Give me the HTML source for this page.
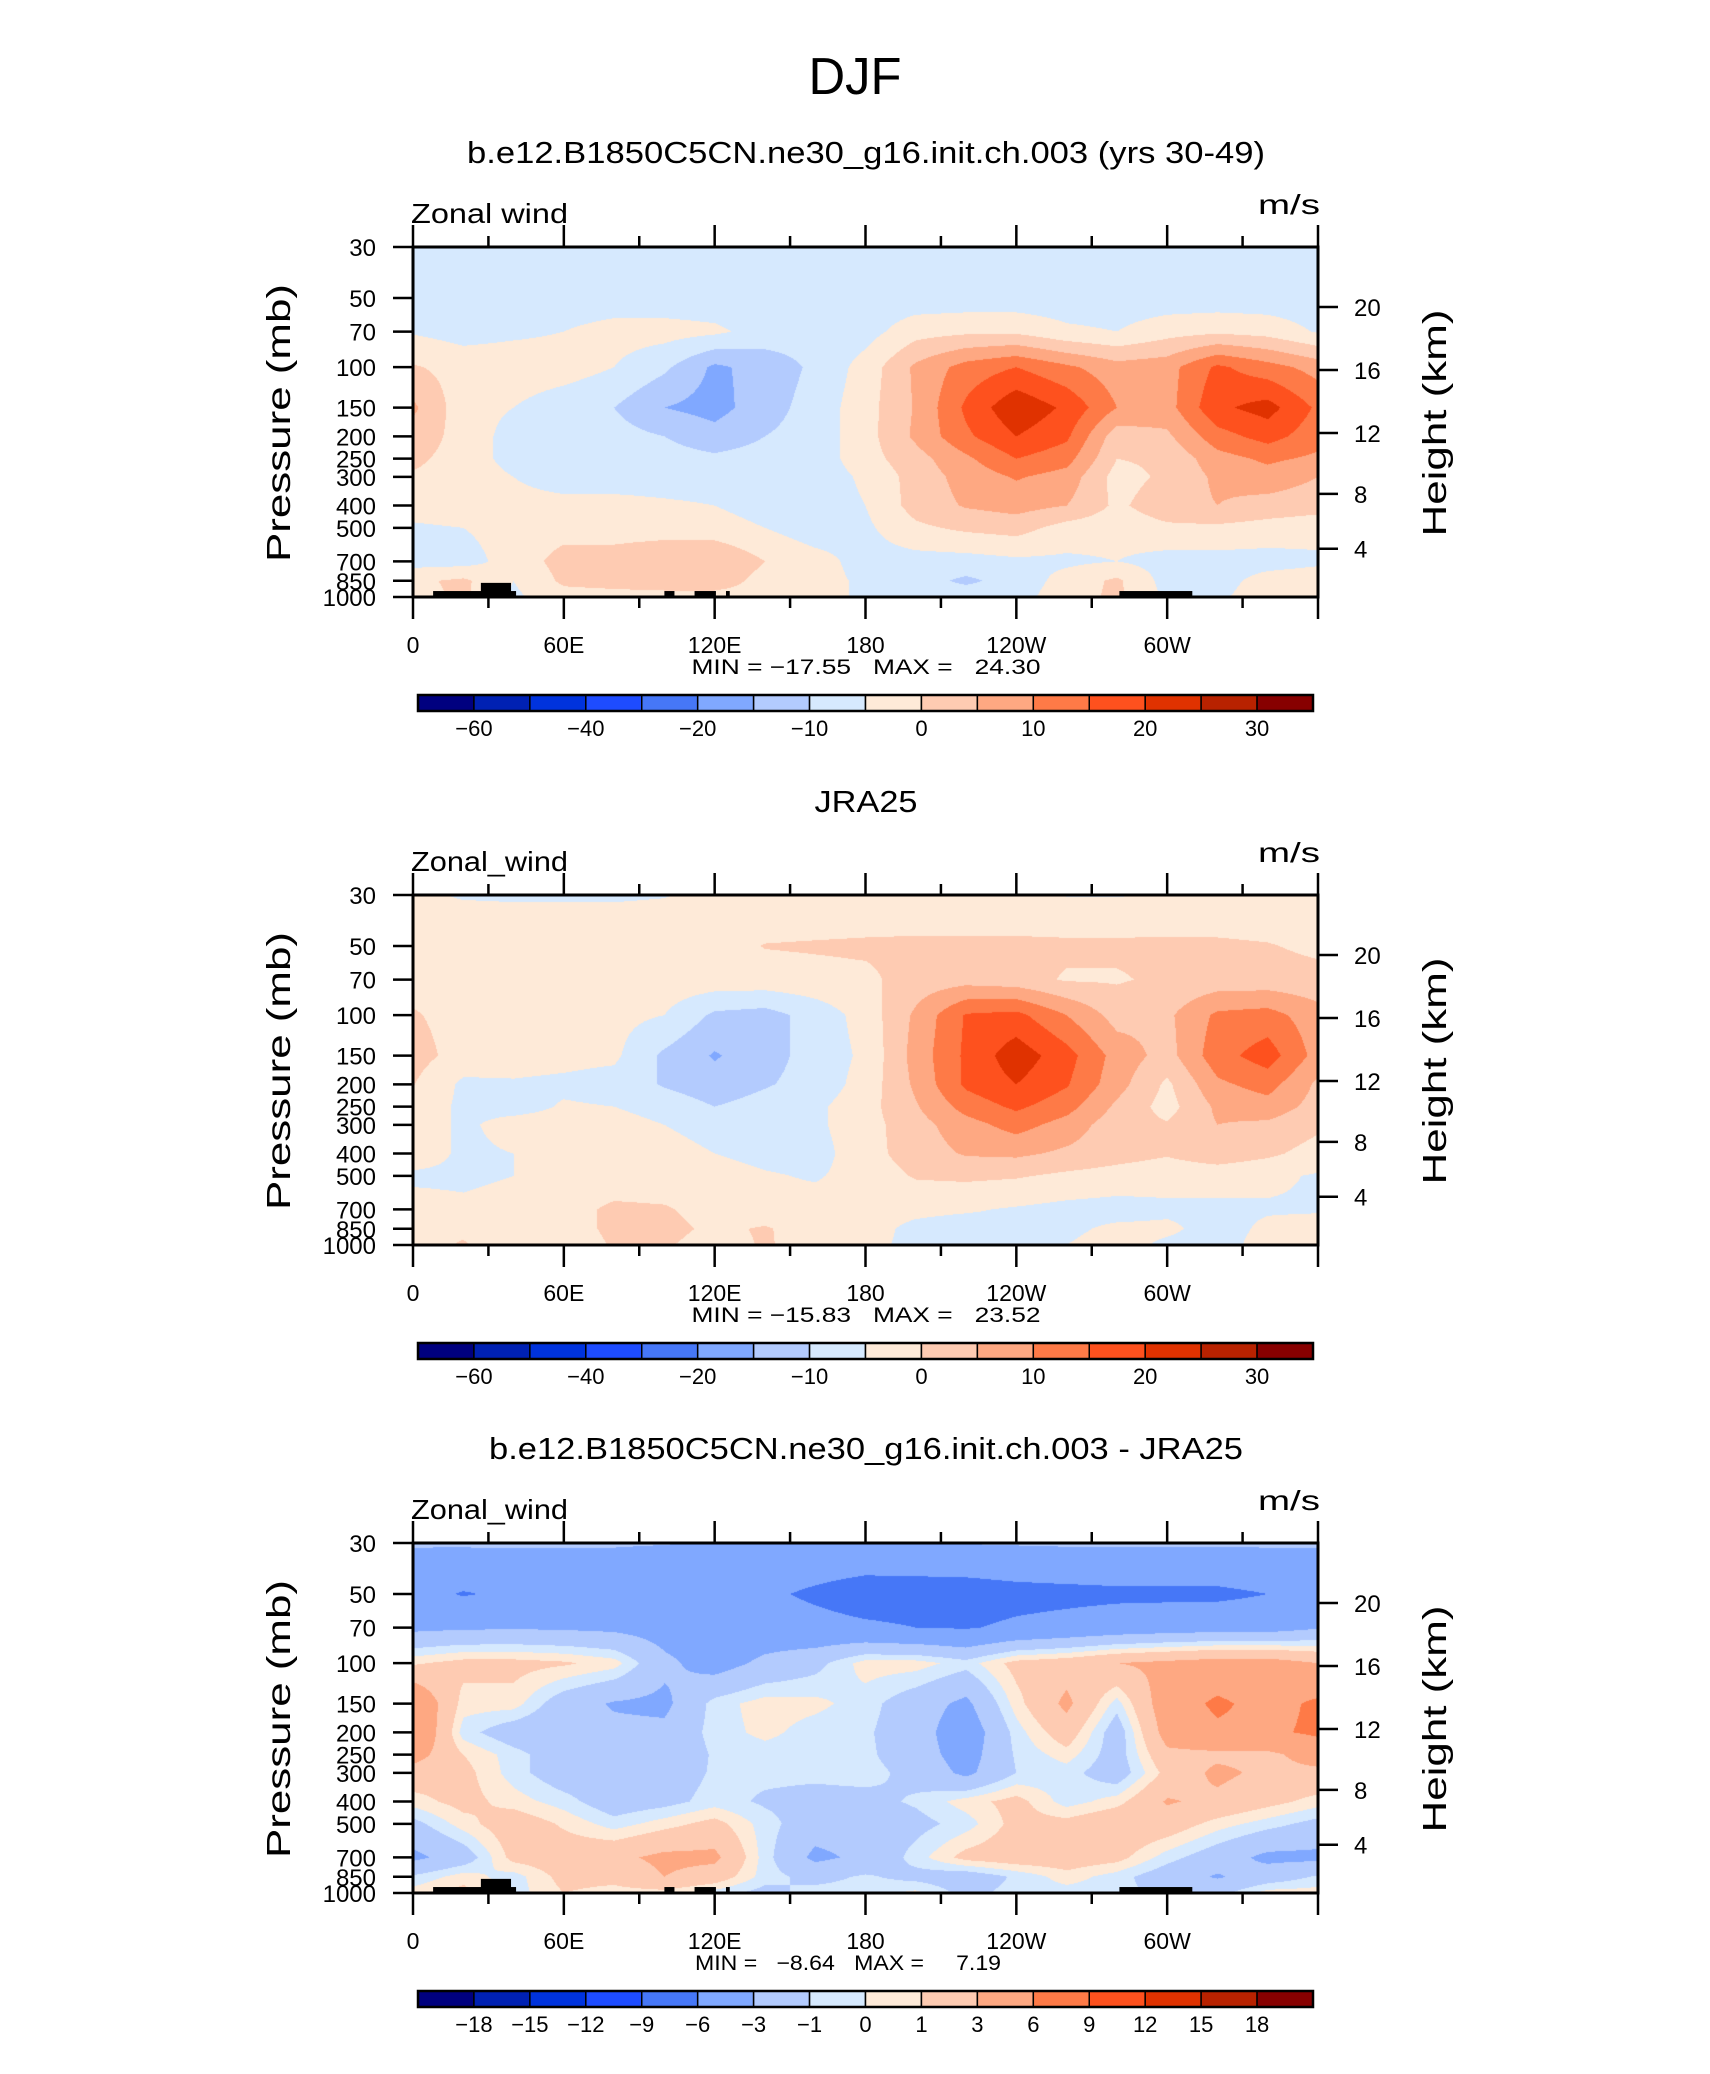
<!DOCTYPE html>
<html><head><meta charset="utf-8"><style>
html,body{margin:0;padding:0;background:#fff;}
#wrap{position:relative;width:1710px;height:2074px;overflow:hidden;background:#fff;}
canvas{position:absolute;}
svg{position:absolute;left:0;top:0;}
text{font-family:"Liberation Sans",sans-serif;fill:#000;white-space:pre;}
</style></head><body>
<div id="wrap">
<canvas id="c0"></canvas>
<canvas id="c1"></canvas>
<canvas id="c2"></canvas>
<svg id="ov" width="1710" height="2074"></svg>
</div>
<script>
// ---------- data ----------
const lons = [0,20,40,60,80,100,120,140,160,180,200,220,240,260,280,300,320,340,360];
const levels = [30,50,70,100,150,200,250,300,400,500,700,850,1000];
const pTickLabels = ["30","50","70","100","150","200","250","300","400","500","700","850","1000"];
const heightTicks = [4,8,12,16,20];
const lonTicks = [0,60,120,180,240,300];
const lonTickLabels = ["0","60E","120E","180","120W","60W"];
const absBounds = [-60,-50,-40,-30,-20,-15,-10,-5,0,5,10,15,20,25,30];
const absBoundLabels = ["\u221260","","\u221240","","\u221220","","\u221210","","0","","10","","20","","30"];
const diffBounds = [-18,-15,-12,-9,-6,-3,-1,0,1,3,6,9,12,15,18];
const diffBoundLabels = ["\u221218","\u221215","\u221212","\u22129","\u22126","\u22123","\u22121","0","1","3","6","9","12","15","18"];
const palette = ['#00007f','#0021b3','#0033dd','#1e4cff','#4677f7','#80a8ff','#b3cbfe','#d6e9fe','#feead8','#fecbb2','#fea882','#fe7a47','#fe511e','#e03200','#b82200','#870000'];
const titles = ["b.e12.B1850C5CN.ne30_g16.init.ch.003 (yrs 30-49)","JRA25","b.e12.B1850C5CN.ne30_g16.init.ch.003 - JRA25"];
const varNames = ["Zonal wind","Zonal_wind","Zonal_wind"];
const minmax = ["MIN = \u221217.55   MAX =   24.30","MIN = \u221215.83   MAX =   23.52","MIN =   \u22128.64   MAX =     7.19"];
// topography blocks: [lonStart, lonEnd, pressureTop]
const topoLon0 = [8,27,100,112,124.5,281];
const topoLon1 = [41,39,104,120.5,126,310];
const topoTop = [942,868,942,942,942,942];

const modelU = [
[-8,-8,-8,-8,-8,-8,-8,-8,-8,-8,-8,-8,-8,-8,-8,-8,-8,-8,-8],
[-8,-8,-8,-8,-8,-8,-8,-8,-8,-8,-8,-8,-8,-8,-8,-8,-8,-8,-8],
[-5.5,-7,-6,-5,-3,-3,-4,-7,-8,-7,-2,-1,-1,-4,-5,-2,-1,-2,-5.5],
[0.5,-2,-2,-2.5,-5,-9,-16,-13,-9,-3,6,12,15,11,7,8,16,12,8],
[6,-3,-5,-8,-10,-15,-17,-12,-8,-2,5.5,16,24,19,10,8,19,22,14],
[3,-2,-7,-8,-8,-10,-13,-10,-8,-2,6,14,20,16,2,4,13,17,12],
[1,-2,-7,-8,-8,-8,-9,-8,-8,-2,3,9,15,12,0,1,8,11,9],
[-0.5,-2,-5,-8,-8,-8,-8,-8,-8,-4,2,7,10.5,8,-2,1,6,8,5],
[-2,-1,-3,-3,-3,-4,-5,-7,-8,-5,2,5.5,7,5,-1,3,5,3,2],
[-6,-5,-3,-2,-2,-2,-3,-5,-8,-6,-1,1,2,-2,-3,-1,-1,-2,-3],
[-7,-7,-3,2,2,3.5,5,0,-3,-7,-7,-7,-6,-6,-5,-7,-7,-7,-6],
[-1,1,-5,1,2,3,3,-2,-3,-6,-8,-11,-8,-3,1,-7,-7,-3,-2],
[-2,1,-6,-2,-2,-2,-2,-2,-3,-6,-7,-7,-7,-2,1,-6,-6,-2,-2]];
const jraU = [
[-4,-5.5,-5.5,-5.5,-5.5,-5.2,-4,-4,-4,-4,-4,-4,-4,-5.2,-5.3,-4.5,-4,-4,-4],
[-2,-0.5,-2,-2,-2,-2,-2,0.2,0.5,0.8,1,1,1,1,1,1,0.8,0.3,-1],
[-2,-2,-2,-2,-2,-2,-2,-2,-1.5,-1,2,3,2,-0.5,-0.5,1,2,2,1.5],
[0.5,-2,-2.5,-3,-3.5,-5,-11,-12,-8,-3,6,15.5,16.5,10,3,4,11,12,7],
[2,-2,-3,-3.5,-4,-11,-15.5,-12,-8,-4,7,16,23,17,8,3,13,17.5,8],
[0.2,-6,-5.5,-6,-7,-10.5,-13,-10.5,-8,-3,6,16,20,15.5,7,-1,9,12,4],
[-2,-6,-7,-4.5,-5,-7,-10,-8,-6,-2,4.5,12,16,12,4,-2,6,8,3],
[-2,-6,-3,-3,-3,-5,-7,-7,-6,-2,3,8,12,8,2,0.5,5,4,1],
[-2,-6,-5,-3,-3,-3,-5,-6.5,-7,-2,2.5,5.5,6,4,2,0.5,3,1,-2],
[-6,-6,-5,-3,-3,-3,-3,-4.5,-5.5,-3,0.5,1,0.5,-1,-2,-3,-3,-4,-5.5],
[-3,-4,-3,-2,1,0.5,-2,-3,-3,-3.5,-4,-4.5,-5.5,-6.5,-7,-6,-6,-5.5,-5.5],
[-2,-1,-3,-2,1,1.5,-1,0.5,-2.5,-3.5,-6,-7,-6,-6,-4,-4,-7,-4,-3],
[-2,0.5,-4,-3,0.5,0.5,-2,0.5,-2,-4,-6,-7,-6,-5,-3,-6,-7,-3,-3]];
const diffU = [
[-2.8,-2.7,-2.7,-2.8,-2.8,-2.9,-3.1,-3.5,-3.5,-3.4,-3.2,-2.9,-2.8,-2.7,-2.7,-2.7,-2.7,-2.7,-2.8],
[-5,-6.2,-5.5,-5,-5,-5.5,-5.8,-5.5,-6.5,-7.5,-7.5,-7.5,-7,-6.8,-6.6,-6.6,-6.6,-6,-5],
[-3.5,-3.3,-3.2,-3.3,-3.5,-4,-4.5,-4.5,-5,-5.5,-6,-6.2,-5.5,-5,-4.5,-4.2,-4,-4,-3.2],
[0.8,1.5,1.5,1.2,0.5,-2.5,-4,-2.5,-1.5,0.5,0.5,-0.5,1.5,2,3,3.5,4,4,3],
[5.5,0.5,0.5,-2,-3.2,-3.5,-0.5,0.5,0.3,-0.5,-2,-3.5,0.5,3.5,-0.5,4.5,6.5,5,6.5],
[6,-0.5,-2,-2.5,-2.5,-2.5,-0.5,0.3,-0.5,-0.8,-2,-4.5,-0.5,2,-2,4,5.5,5.5,6.5],
[4,1,-0.5,-2,-2,-2.5,-0.8,-0.5,-0.5,-0.7,-2,-4,-0.8,0.5,-1.8,2.5,2.5,2.5,4],
[2,1.5,-0.5,-2,-2,-2,-0.8,-0.7,-0.7,-0.5,-1.5,-3.5,-1,-0.5,-2,1.5,3.5,2.5,2.5],
[0.5,1.5,0.5,-0.5,-2,-1.5,-0.5,-1.2,-1.5,-1.5,-0.8,0.5,1.5,-0.5,0.5,3.2,2.5,1.5,0.5],
[-1.5,0.5,2,0.8,-0.5,0.5,1.5,-0.5,-2,-2,-1.5,-0.5,1.5,1.5,2.5,2,0.5,-0.5,-1.5],
[-3.5,-2,1.5,2,2.5,3.5,3.5,-0.5,-3.5,-2.5,-0.5,1.5,2,2,1.5,-0.5,-2,-3.5,-3.5],
[-0.8,0.5,-0.5,1.5,1.5,3,2,-0.5,-1.5,-0.8,-1.5,-2,-0.8,0.5,-0.5,-2,-3.2,-2,-0.8],
[0.5,1.5,-0.5,1,0.5,0.5,-0.5,-1.5,-0.5,-0.5,0.3,-1.5,-0.5,-0.5,-0.5,-1.5,-1.5,0.5,0.5]];

// ---------- layout ----------
const X0 = 413, X1 = 1318, PH = 350;
const panelTops = [247, 895, 1543];
const lp0 = Math.log10(30), lp1 = Math.log10(1000);
function xOf(lon){ return X0 + (X1 - X0) * lon / 360; }
function yOf(p, top){ return top + PH * (Math.log10(p) - lp0) / (lp1 - lp0); }
function pOfZ(z){ // standard atmosphere, km -> hPa
  if (z <= 11) return 1013.25 * Math.pow((288.15 - 6.5 * z) / 288.15, 5.2559);
  return 226.32 * Math.exp(-(z - 11) / 6.3416);
}
function colorIndex(v, bounds){ let i = 0; while (i < bounds.length && v >= bounds[i]) i++; return i; }
function hexRgb(h){ return [parseInt(h.substr(1,2),16),parseInt(h.substr(3,2),16),parseInt(h.substr(5,2),16)]; }
const rgbPal = palette.map(hexRgb);
const logLev = levels.map(p => Math.log10(p));

function drawField(cid, grid, bounds, top){
  const c = document.getElementById(cid);
  const w = X1 - X0, h = PH;
  c.width = w; c.height = h;
  c.style.left = X0 + 'px'; c.style.top = top + 'px';
  const ctx = c.getContext('2d');
  const img = ctx.createImageData(w, h);
  for (let y = 0; y < h; y++){
    const lp = lp0 + (y + 0.5) / h * (lp1 - lp0);
    let k = 0; while (k < logLev.length - 2 && lp > logLev[k+1]) k++;
    const ty = Math.min(1, Math.max(0, (lp - logLev[k]) / (logLev[k+1] - logLev[k])));
    for (let x = 0; x < w; x++){
      const lon = (x + 0.5) / w * 360;
      let i = Math.min(lons.length - 2, Math.floor(lon / 20));
      const tx = (lon - lons[i]) / (lons[i+1] - lons[i]);
      const v = (1-ty)*((1-tx)*grid[k][i] + tx*grid[k][i+1]) + ty*((1-tx)*grid[k+1][i] + tx*grid[k+1][i+1]);
      const col = rgbPal[colorIndex(v, bounds)];
      const o = (y * w + x) * 4;
      img.data[o] = col[0]; img.data[o+1] = col[1]; img.data[o+2] = col[2]; img.data[o+3] = 255;
    }
  }
  ctx.putImageData(img, 0, 0);
}
drawField('c0', modelU, absBounds, panelTops[0]);
drawField('c1', jraU, absBounds, panelTops[1]);
drawField('c2', diffU, diffBounds, panelTops[2]);

// ---------- overlay ----------
const NS = 'http://www.w3.org/2000/svg';
const ov = document.getElementById('ov');
function el(tag, attrs, parent){
  const e = document.createElementNS(NS, tag);
  for (const k in attrs) e.setAttribute(k, attrs[k]);
  (parent || ov).appendChild(e);
  return e;
}
function txt(s, attrs, parent){ const t = el('text', attrs, parent); t.textContent = s; return t; }

const djf = txt('DJF', {x:855, y:94, 'text-anchor':'middle', 'font-size':52, textLength:93, lengthAdjust:'spacingAndGlyphs', fill:'#111'});



const titleWidths = [798, 103, 754];
const titleY = [163, 812, 1459];
const cbarTops = [695, 1343, 1991];
const mmWidths = [349, 349, 306];
const mmCenters = [866, 866, 848];

for (let pi = 0; pi < 3; pi++){
  const top = panelTops[pi], bot = top + PH;
  const g = el('g', {});
  
  

  const t = txt(titles[pi], {x:866, y:titleY[pi], 'text-anchor':'middle', 'font-size':31, textLength:titleWidths[pi], lengthAdjust:'spacingAndGlyphs'}, g);
  
  

  const vn = txt(varNames[pi], {x:411, y:top-24, 'font-size':28, textLength:157, lengthAdjust:'spacingAndGlyphs'}, g);
  
  
  const un = txt('m/s', {x:1320, y:top-33, 'text-anchor':'end', 'font-size':28, textLength:62, lengthAdjust:'spacingAndGlyphs'}, g);
  
  

  // topography
  if (pi !== 1){
    for (let b = 0; b < topoLon0.length; b++){
      const r = el('rect', {x:xOf(topoLon0[b]), y:yOf(topoTop[b], top), width:xOf(topoLon1[b])-xOf(topoLon0[b]), height:bot-yOf(topoTop[b], top), fill:'#000'}, g);
      
      
    }
  }

  // frame
  const fr = el('rect', {x:X0, y:top, width:X1-X0, height:PH, fill:'none', stroke:'#000', 'stroke-width':3}, g);
  
  

  // lon ticks
  for (let lon = 0; lon <= 360; lon += 30){
    const major = lon % 60 === 0;
    const L = major ? 22 : 11;
    const x = xOf(lon);
    const a = el('line', {x1:x, y1:top, x2:x, y2:top-L, stroke:'#000', 'stroke-width':2.5}, g);
    
    
    const b = el('line', {x1:x, y1:bot, x2:x, y2:bot+L, stroke:'#000', 'stroke-width':2.5}, g);
    
    
  }
  for (let j = 0; j < lonTicks.length; j++){
    const xl = txt(lonTickLabels[j], {x:xOf(lonTicks[j]), y:bot+56, 'text-anchor':'middle', 'font-size':23}, g);
    
    
  }
  // pressure ticks
  for (let j = 0; j < levels.length; j++){
    const y = yOf(levels[j], top);
    const tl = el('line', {x1:X0, y1:y, x2:X0-20, y2:y, stroke:'#000', 'stroke-width':2.5}, g);
    
    
    const lb = txt(pTickLabels[j], {x:376, y:y+9, 'text-anchor':'end', 'font-size':24}, g);
    
    
  }
  // height ticks
  for (let j = 0; j < heightTicks.length; j++){
    const y = yOf(pOfZ(heightTicks[j]), top);
    const hl = el('line', {x1:X1, y1:y, x2:X1+20, y2:y, stroke:'#000', 'stroke-width':2.5}, g);
    
    
    const hb = txt(String(heightTicks[j]), {x:1354, y:y+9, 'font-size':24}, g);
    
    
  }
  const ya = txt('Pressure (mb)', {x:0, y:0, 'text-anchor':'middle', 'font-size':33, textLength:278, lengthAdjust:'spacingAndGlyphs', transform:'translate(290,' + (top+176) + ') rotate(-90)'}, g);
  
  
  const ha = txt('Height (km)', {x:0, y:0, 'text-anchor':'middle', 'font-size':33, textLength:227, lengthAdjust:'spacingAndGlyphs', transform:'translate(1446,' + (top+176) + ') rotate(-90)'}, g);
  
  

  const mm = txt(minmax[pi], {x:mmCenters[pi], y:bot+77, 'text-anchor':'middle', 'font-size':21, textLength:mmWidths[pi], lengthAdjust:'spacingAndGlyphs'}, g);
  
  

  // colorbar
  const cb = el('g', {}, g);
  
  
  const cx0 = 418, cx1 = 1313, ct = cbarTops[pi], ch = 16;
  const bw = (cx1 - cx0) / palette.length;
  for (let k = 0; k < palette.length; k++){
    const r = el('rect', {x:cx0 + k*bw, y:ct, width:bw, height:ch, fill:palette[k], stroke:'#000', 'stroke-width':1.5}, cb);
    
    
  }
  el('rect', {x:cx0, y:ct, width:cx1-cx0, height:ch, fill:'none', stroke:'#000', 'stroke-width':2.5}, cb);
  const labs = pi === 2 ? diffBoundLabels : absBoundLabels;
  for (let k = 0; k < labs.length; k++){
    if (!labs[k]) continue;
    const l = txt(labs[k], {x:cx0 + (k+1)*bw, y:ct+41, 'text-anchor':'middle', 'font-size':22}, cb);
    
    
  }
}
</script>
</body></html>
